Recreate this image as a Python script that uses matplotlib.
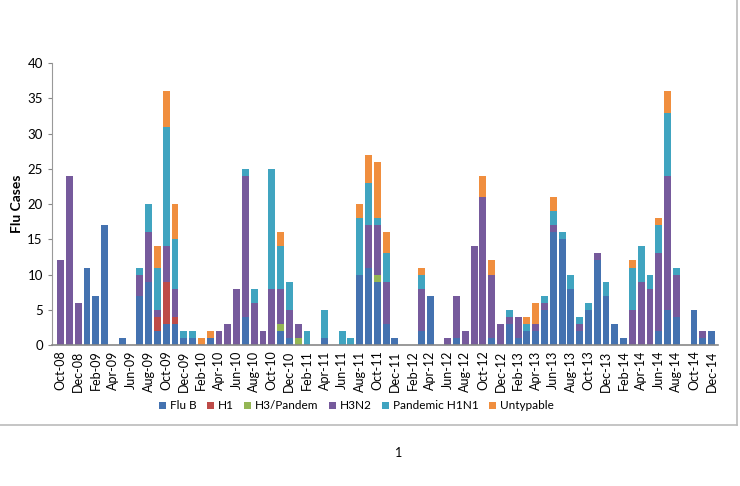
import matplotlib
matplotlib.use("Agg")
import matplotlib.pyplot as plt
import numpy as np
import pandas as pd

# monthly flu isolates, Oct-08 .. Dec-14
months = pd.period_range("2008-10", "2014-12", freq="M").strftime("%b-%y").tolist()

flu_b = [0, 0, 0, 11, 7, 17, 0, 1, 0, 7, 9, 2, 3, 3, 1, 1, 0, 1, 0, 0,
         0, 4, 0, 0, 0, 2, 1, 0, 0, 0, 1, 0, 0, 0, 10, 11, 9, 3, 1, 0,
         0, 2, 7, 0, 0, 1, 0, 0, 0, 1, 0, 3, 1, 2, 2, 5, 16, 15, 8, 2,
         5, 12, 7, 3, 1, 0, 0, 0, 2, 5, 4, 0, 5, 1, 2]
h1 = [0, 0, 0, 0, 0, 0, 0, 0, 0, 0, 0, 2, 6, 1, 0, 0, 0, 0, 0, 0,
      0, 0, 0, 0, 0, 0, 0, 0, 0, 0, 0, 0, 0, 0, 0, 0, 0, 0, 0, 0,
      0, 0, 0, 0, 0, 0, 0, 0, 0, 0, 0, 0, 0, 0, 0, 0, 0, 0, 0, 0,
      0, 0, 0, 0, 0, 0, 0, 0, 0, 0, 0, 0, 0, 0, 0]
h3_pandem = [0, 0, 0, 0, 0, 0, 0, 0, 0, 0, 0, 0, 0, 0, 0, 0, 0, 0, 0, 0,
             0, 0, 0, 0, 0, 1, 0, 1, 0, 0, 0, 0, 0, 0, 0, 0, 1, 0, 0, 0,
             0, 0, 0, 0, 0, 0, 0, 0, 0, 0, 0, 0, 0, 0, 0, 0, 0, 0, 0, 0,
             0, 0, 0, 0, 0, 0, 0, 0, 0, 0, 0, 0, 0, 0, 0]
h3n2 = [12, 24, 6, 0, 0, 0, 0, 0, 0, 3, 7, 1, 5, 4, 0, 0, 0, 0, 2, 3,
        8, 20, 6, 2, 8, 5, 4, 2, 0, 0, 0, 0, 0, 0, 0, 6, 7, 6, 0, 0,
        0, 6, 0, 0, 1, 6, 2, 14, 21, 9, 3, 1, 3, 0, 1, 1, 1, 0, 0, 1,
        0, 1, 0, 0, 0, 5, 9, 8, 11, 19, 6, 0, 0, 1, 0]
pandemic_h1n1 = [0, 0, 0, 0, 0, 0, 0, 0, 0, 1, 4, 6, 17, 7, 1, 1, 0, 0, 0, 0,
                 0, 1, 2, 0, 17, 6, 4, 0, 2, 0, 4, 0, 2, 1, 8, 6, 1, 4, 0, 0,
                 0, 2, 0, 0, 0, 0, 0, 0, 0, 0, 0, 1, 0, 1, 0, 1, 2, 1, 2, 1,
                 1, 0, 2, 0, 0, 6, 5, 2, 4, 9, 1, 0, 0, 0, 0]
untypable = [0, 0, 0, 0, 0, 0, 0, 0, 0, 0, 0, 3, 5, 5, 0, 0, 1, 1, 0, 0,
             0, 0, 0, 0, 0, 2, 0, 0, 0, 0, 0, 0, 0, 0, 2, 4, 8, 3, 0, 0,
             0, 1, 0, 0, 0, 0, 0, 0, 3, 2, 0, 0, 0, 1, 3, 0, 2, 0, 0, 0,
             0, 0, 0, 0, 0, 1, 0, 0, 1, 3, 0, 0, 0, 0, 0]

series = [("Flu B", flu_b, "#4472B0"),
          ("H1", h1, "#BE4B48"),
          ("H3/Pandem", h3_pandem, "#94B654"),
          ("H3N2", h3n2, "#765A9C"),
          ("Pandemic H1N1", pandemic_h1n1, "#40A4C0"),
          ("Untypable", untypable, "#F08E3E")]


def Plot(saveFigure=True):
    plt.rcParams["font.family"] = ["Lato", "DejaVu Sans"]
    fig = plt.figure(figsize=(7.4, 4.86), dpi=100)
    ax = fig.add_axes([0.070, 0.290, 0.900, 0.580])

    x = np.arange(len(months))
    bottom = np.zeros(len(months))
    for name, vals, col in series:
        vals = np.array(vals, dtype=float)
        ax.bar(x, vals, 0.78, bottom=bottom, color=col, label=name,
               edgecolor="none", zorder=2)
        bottom += vals

    ax.set_xlim(-1.0, 74.7)
    ax.set_ylim(0, 40)
    ax.set_yticks(range(0, 41, 5))
    ax.set_xticks(x[::2])
    ax.set_xticklabels(months[::2], rotation=90, fontsize=9)
    ax.tick_params(axis="y", labelsize=9.5, length=3, color="#888888")
    ax.tick_params(axis="x", length=0, pad=4)

    for s in ["top", "right"]:
        ax.spines[s].set_visible(False)
    ax.spines["left"].set_color("#999999")
    ax.spines["bottom"].set_color("#888888")
    ax.spines["bottom"].set_linewidth(1.2)

    ax.set_ylabel("Flu Cases", fontsize=10, fontweight="bold", labelpad=3)

    ax.legend(loc="center", bbox_to_anchor=(0.457, -0.216), ncol=6,
              frameon=False, fontsize=8.5, handlelength=0.6, handleheight=0.6,
              handletextpad=0.3, columnspacing=0.9)

    # page frame and page number
    fig.add_artist(plt.Line2D([0, 737 / 740], [1 - 425 / 486, 1 - 425 / 486],
                              color="#bbbbbb", lw=1.2))
    fig.add_artist(plt.Line2D([737 / 740, 737 / 740], [1 - 425 / 486, 1.0],
                              color="#bbbbbb", lw=1.2))
    fig.text(399 / 740, 1 - 453 / 486, "1", fontsize=9, ha="center", va="center")

    if saveFigure:
        fig.savefig("out.png")
        print("out.png saved")
    else:
        fig.show()


if __name__ == "__main__":
    Plot()
